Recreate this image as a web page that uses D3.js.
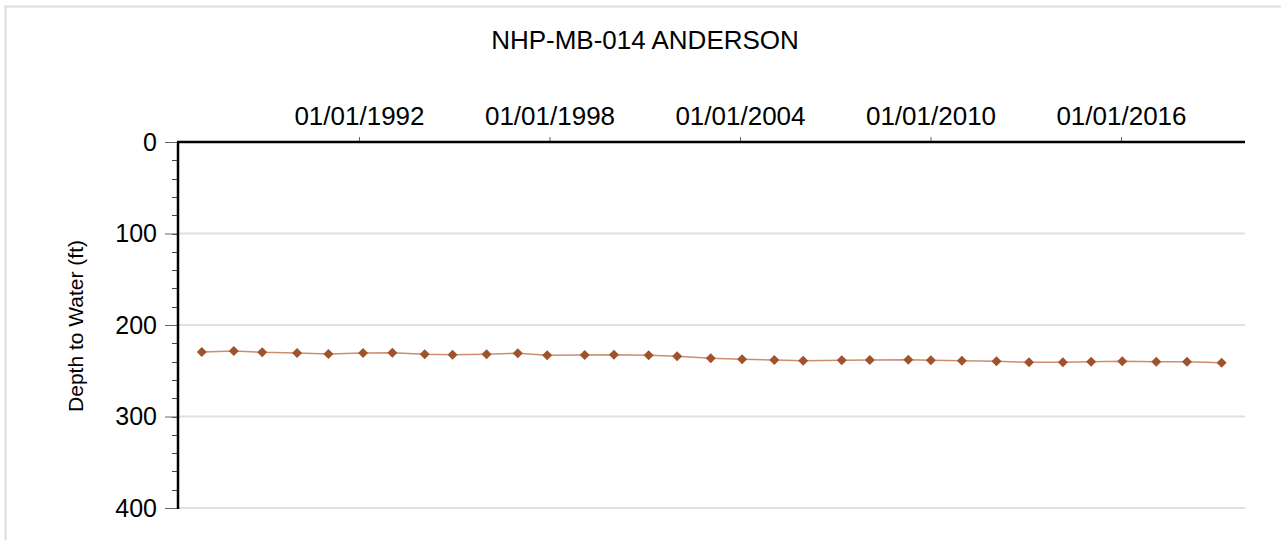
<!DOCTYPE html>
<html>
<head>
<meta charset="utf-8">
<script src="https://cdnjs.cloudflare.com/ajax/libs/d3/7.8.5/d3.min.js"></script>
<style>
  body { margin: 0; background: #fff; }
  text { font-family: "Liberation Sans", Arial, sans-serif; fill: #000; }
</style>
</head>
<body>
<div id="chart"></div>
<script>
// well readings (date, depth to water in ft)
var sampleDates = [
  "1987-01-19", "1988-01-22", "1988-12-14", "1990-01-19", "1991-01-15",
  "1992-02-17", "1993-01-19", "1994-01-26", "1994-12-13", "1996-01-08",
  "1997-01-01", "1997-12-05", "1999-02-10", "2000-01-12", "2001-02-14",
  "2002-01-08", "2003-01-30", "2004-01-26", "2005-01-30", "2005-12-28",
  "2007-03-17", "2008-02-03", "2009-04-20", "2010-01-05", "2010-12-28",
  "2012-01-30", "2013-02-07", "2014-03-04", "2015-01-23", "2016-01-16",
  "2017-02-10", "2018-01-30", "2019-03-04"
];
var depthValues = [
  229.5, 228.4, 229.8, 230.6, 231.7,
  230.6, 230.3, 232.0, 232.5, 232.0,
  230.9, 233.1, 232.8, 232.5, 233.1,
  234.2, 236.4, 237.5, 238.3, 239.0,
  238.6, 238.3, 237.9, 238.6, 239.0,
  239.7, 240.8, 240.8, 240.1, 239.7,
  240.1, 240.1, 241.2
];
var xTickDates = ["1992-01-01", "1998-01-01", "2004-01-01", "2010-01-01", "2016-01-01"];
var yTicks = [0, 100, 200, 300, 400];
var yMinorTicks = d3.range(0, 401, 20);

var title = "NHP-MB-014 ANDERSON";
var yLabel = "Depth to Water (ft)";

var width = 1281, height = 540;
var plotLeft = 178, plotTop = 142, plotRight = 1245, plotBottom = 508;

var parse = d3.timeParse("%Y-%m-%d");
var fmt = d3.timeFormat("%m/%d/%Y");

var data = sampleDates.map(function(d, i) {
  return { date: parse(d), depth: depthValues[i] };
});

var svg = d3.select("#chart").append("svg")
  .attr("width", width)
  .attr("height", height);

// outer frame
svg.append("rect")
  .attr("x", 5.5).attr("y", 6.5)
  .attr("width", 1300).attr("height", 600)
  .attr("fill", "none")
  .attr("stroke", "#dcdcdc")
  .attr("stroke-width", 2);

var x = d3.scaleTime()
  .domain([parse("1986-04-20"), parse("2019-11-28")])
  .range([plotLeft, plotRight]);

var y = d3.scaleLinear()
  .domain([0, 400])
  .range([plotTop, plotBottom]);

// gridlines
svg.append("g")
  .selectAll("line")
  .data(yTicks.filter(function(d) { return d > 0; }))
  .enter()
  .append("line")
  .attr("x1", plotLeft).attr("x2", plotRight)
  .attr("y1", function(d) { return y(d); })
  .attr("y2", function(d) { return y(d); })
  .attr("stroke", "#e0e0e0")
  .attr("stroke-width", 2);

// y minor ticks
svg.append("g")
  .selectAll("line")
  .data(yMinorTicks)
  .enter()
  .append("line")
  .attr("x1", plotLeft - 6).attr("x2", plotLeft)
  .attr("y1", function(d) { return Math.round(y(d)) + 0.5; })
  .attr("y2", function(d) { return Math.round(y(d)) + 0.5; })
  .attr("stroke", "#444");

// y axis (major ticks + labels)
var yAxis = d3.axisLeft(y)
  .tickValues(yTicks)
  .tickSize(13)
  .tickPadding(8);

var gy = svg.append("g")
  .attr("transform", "translate(" + plotLeft + ",0)")
  .call(yAxis);
gy.select(".domain").remove();
gy.selectAll(".tick line").attr("stroke", "#666");
gy.selectAll(".tick text")
  .style("font-family", "'Liberation Sans', Arial, sans-serif")
  .style("font-size", "25px")
  .attr("fill", "#000");

// x axis on top
var xAxis = d3.axisTop(x)
  .tickValues(xTickDates.map(parse))
  .tickFormat(fmt)
  .tickSize(5)
  .tickPadding(12);

var gx = svg.append("g")
  .attr("transform", "translate(0," + plotTop + ")")
  .call(xAxis);
gx.select(".domain").remove();
gx.selectAll(".tick line").attr("stroke", "#666");
gx.selectAll(".tick text")
  .style("font-family", "'Liberation Sans', Arial, sans-serif")
  .style("font-size", "26px")
  .attr("fill", "#000");

// axis lines
svg.append("line")
  .attr("x1", plotLeft - 1).attr("x2", plotRight)
  .attr("y1", plotTop).attr("y2", plotTop)
  .attr("stroke", "#000").attr("stroke-width", 2.5);
svg.append("line")
  .attr("x1", plotLeft).attr("x2", plotLeft)
  .attr("y1", plotTop).attr("y2", plotBottom + 1)
  .attr("stroke", "#000").attr("stroke-width", 2.5);

// series line
var line = d3.line()
  .x(function(d) { return x(d.date); })
  .y(function(d) { return y(d.depth); });

svg.append("path")
  .datum(data)
  .attr("d", line)
  .attr("fill", "none")
  .attr("stroke", "#c98f6e")
  .attr("stroke-width", 1.5);

// diamond markers
svg.append("g")
  .selectAll("path")
  .data(data)
  .enter()
  .append("path")
  .attr("d", d3.symbol().type(d3.symbolDiamond2).size(64))
  .attr("transform", function(d) { return "translate(" + x(d.date) + "," + y(d.depth) + ")"; })
  .attr("fill", "#a0522d");

// title
svg.append("text")
  .attr("x", 645).attr("y", 49)
  .attr("text-anchor", "middle")
  .style("font-size", "26px")
  .text(title);

// y label
svg.append("text")
  .attr("transform", "translate(83,326) rotate(-90)")
  .attr("text-anchor", "middle")
  .style("font-size", "21px")
  .text(yLabel);
</script>
</body>
</html>
